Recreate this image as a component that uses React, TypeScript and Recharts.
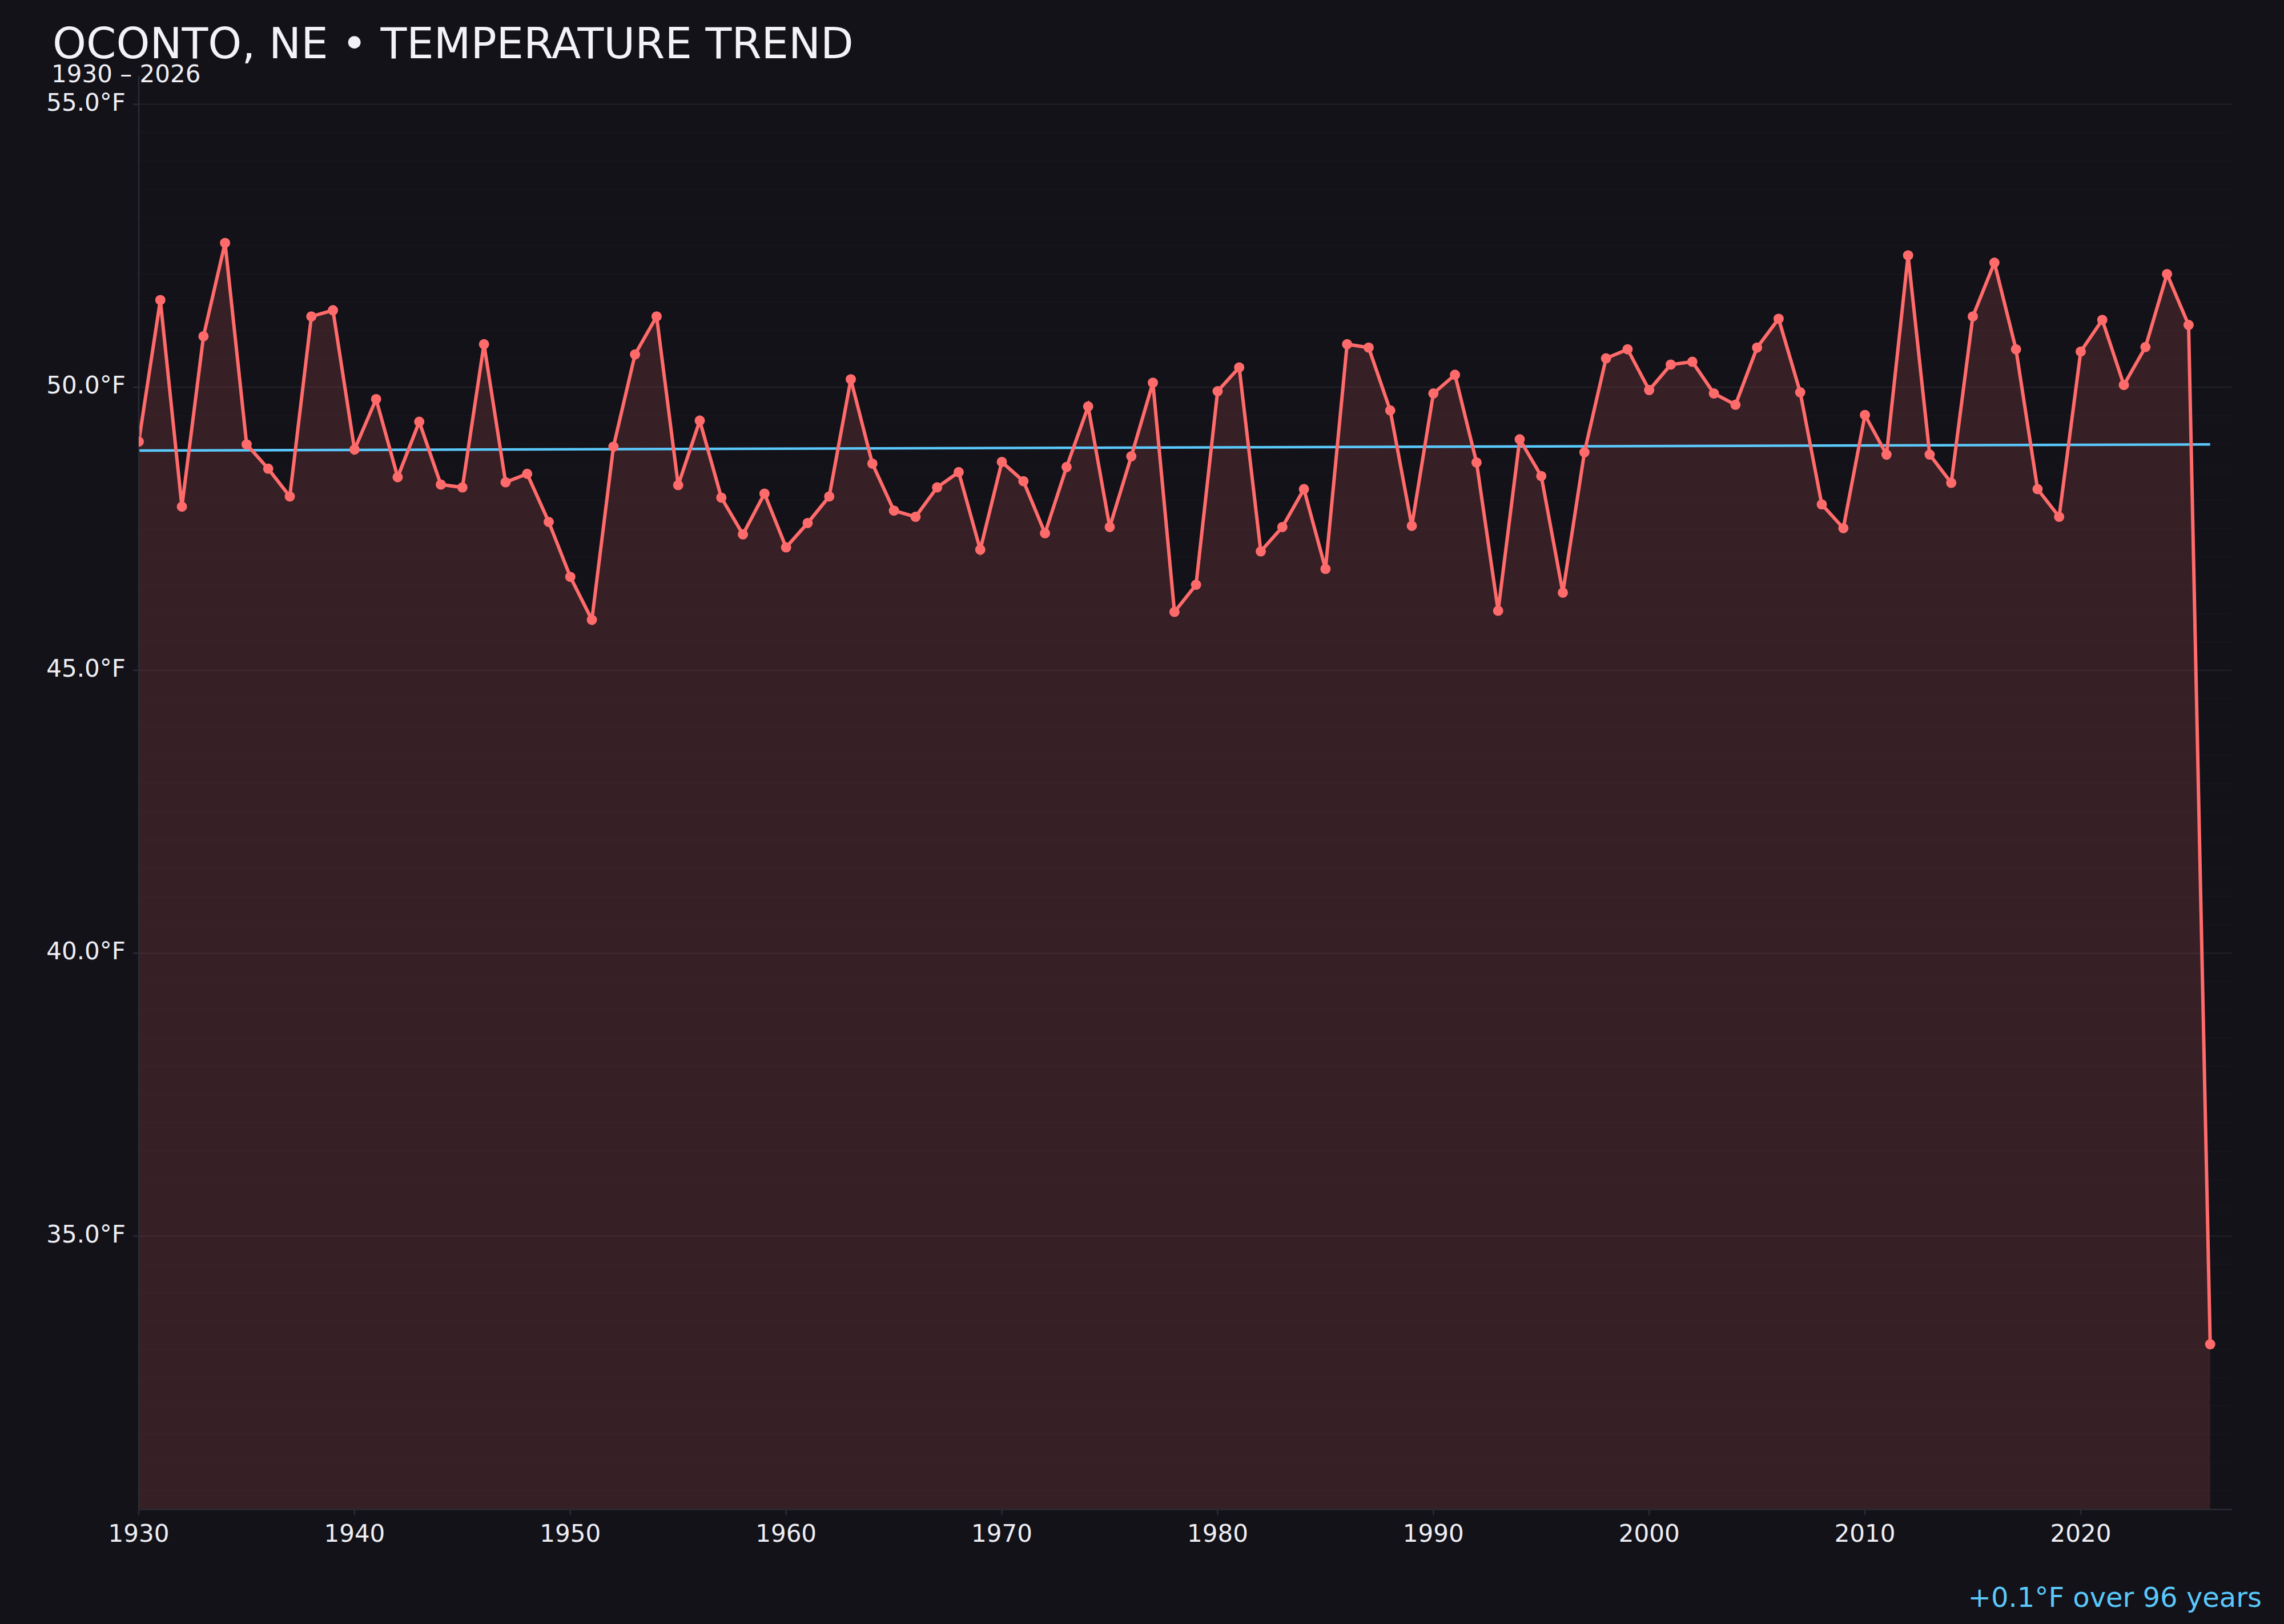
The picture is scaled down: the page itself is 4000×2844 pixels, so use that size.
import React from 'react';
import { ComposedChart, Area, Line, XAxis, YAxis, CartesianGrid } from 'recharts';

const YEARS = [
  1930, 1931, 1932, 1933, 1934, 1935, 1936, 1937, 1938, 1939,
  1940, 1941, 1942, 1943, 1944, 1945, 1946, 1947, 1948, 1949,
  1950, 1951, 1952, 1953, 1954, 1955, 1956, 1957, 1958, 1959,
  1960, 1961, 1962, 1963, 1964, 1965, 1966, 1967, 1968, 1969,
  1970, 1971, 1972, 1973, 1974, 1975, 1976, 1977, 1978, 1979,
  1980, 1981, 1982, 1983, 1984, 1985, 1986, 1987, 1988, 1989,
  1990, 1991, 1992, 1993, 1994, 1995, 1996, 1997, 1998, 1999,
  2000, 2001, 2002, 2003, 2004, 2005, 2006, 2007, 2008, 2009,
  2010, 2011, 2012, 2013, 2014, 2015, 2016, 2017, 2018, 2019,
  2020, 2021, 2022, 2023, 2024, 2025, 2026,
];

const TEMPS = [
  49.04, 51.54, 47.89, 50.9, 52.55, 48.99, 48.56, 48.07, 51.25, 51.36,
  48.9, 49.79, 48.41, 49.39, 48.28, 48.23, 50.76, 48.32, 48.47, 47.62,
  46.65, 45.89, 48.95, 50.58, 51.25, 48.27, 49.41, 48.05, 47.4, 48.12,
  47.17, 47.6, 48.07, 50.14, 48.65, 47.82, 47.71, 48.23, 48.5, 47.13,
  48.68, 48.34, 47.42, 48.59, 49.66, 47.53, 48.78, 50.08, 46.03, 46.51,
  49.93, 50.35, 47.1, 47.53, 48.2, 46.79, 50.76, 50.7, 49.59, 47.55,
  49.89, 50.22, 48.67, 46.05, 49.08, 48.43, 46.37, 48.85, 50.51, 50.67,
  49.95, 50.4, 50.45, 49.89, 49.69, 50.7, 51.21, 49.91, 47.93, 47.51,
  49.51, 48.81, 52.33, 48.81, 48.31, 51.25, 52.2, 50.67, 48.2, 47.71,
  50.63, 51.19, 50.04, 50.71, 52.0, 51.1, 33.09,
];

const TREND_YEARS = [1930, 2026];
const TREND_VALUES = [48.88, 48.99];

const X_TICKS = [1930, 1940, 1950, 1960, 1970, 1980, 1990, 2000, 2010, 2020];
const Y_TICKS = [35, 40, 45, 50, 55];
const MINOR_Y = [
  30.5, 31, 31.5, 32, 32.5, 33, 33.5, 34, 34.5, 35, 35.5, 36, 36.5, 37, 37.5,
  38, 38.5, 39, 39.5, 40, 40.5, 41, 41.5, 42, 42.5, 43, 43.5, 44, 44.5, 45,
  45.5, 46, 46.5, 47, 47.5, 48, 48.5, 49, 49.5, 50, 50.5, 51, 51.5, 52, 52.5,
  53, 53.5, 54, 54.5, 55,
];

const TITLE = 'OCONTO, NE • TEMPERATURE TREND';
const SUBTITLE = '1930 – 2026';
const FOOTER = '+0.1°F over 96 years';

const data = YEARS.map((year, i) => {
  const t = TREND_YEARS.indexOf(year);
  return { year, temp: TEMPS[i], trend: t >= 0 ? TREND_VALUES[t] : null };
});

const W = 4000;
const H = 2844;
const FONT = '"DejaVu Sans", Verdana, sans-serif';
const BG = '#131219';
const RED = '#ff6b6b';
const BLUE = '#5ac8fa';
const AXIS = '#2b2b34';
const TEXT = '#eeeef3';

const XTick = (props: any) => (
  <text
    x={props.x}
    y={props.y}
    dy={30}
    textAnchor="middle"
    fill={TEXT}
    fontSize={42}
    fontFamily={FONT}
  >
    {props.payload.value}
  </text>
);

const YTick = (props: any) => (
  <text
    x={props.x}
    y={props.y}
    dy={11}
    textAnchor="end"
    fill={TEXT}
    fontSize={42}
    fontFamily={FONT}
  >
    {`${Number(props.payload.value).toFixed(1)}°F`}
  </text>
);

export default function App() {
  return (
    <div
      style={{
        position: 'absolute',
        left: 0,
        top: 0,
        width: W,
        height: H,
        background: BG,
        overflow: 'hidden',
      }}
    >
      <ComposedChart
        width={W}
        height={H}
        data={data}
        margin={{ top: 133, right: 91.5, bottom: 0, left: 0 }}
      >
        <CartesianGrid
          vertical={false}
          horizontalValues={MINOR_Y}
          stroke="#ffffff"
          strokeOpacity={0.018}
          strokeWidth={2}
        />
        <CartesianGrid
          vertical={false}
          horizontalValues={Y_TICKS}
          stroke="#ffffff"
          strokeOpacity={0.045}
          strokeWidth={2.5}
        />
        <XAxis
          dataKey="year"
          type="number"
          domain={[1930, 2027]}
          ticks={X_TICKS}
          interval={0}
          allowDataOverflow
          height={200.5}
          tickSize={10}
          tickMargin={16}
          axisLine={{ stroke: AXIS, strokeWidth: 2.5 }}
          tickLine={{ stroke: AXIS, strokeWidth: 2.5 }}
          tick={<XTick />}
        />
        <YAxis
          type="number"
          domain={[30.17, 55.5]}
          ticks={Y_TICKS}
          interval={0}
          allowDataOverflow
          width={243}
          tickSize={10}
          tickMargin={13}
          axisLine={{ stroke: AXIS, strokeWidth: 2.5 }}
          tickLine={{ stroke: AXIS, strokeWidth: 2.5 }}
          tick={<YTick />}
        />
        <Area
          type="linear"
          dataKey="temp"
          stroke="none"
          fill={RED}
          fillOpacity={0.15}
          isAnimationActive={false}
          activeDot={false}
        />
        <Line
          type="linear"
          dataKey="trend"
          connectNulls
          stroke={BLUE}
          strokeWidth={4.5}
          dot={false}
          activeDot={false}
          isAnimationActive={false}
        />
        <Line
          type="linear"
          dataKey="temp"
          stroke={RED}
          strokeWidth={6}
          dot={{ r: 8, fill: RED, stroke: RED, strokeWidth: 2 }}
          activeDot={false}
          isAnimationActive={false}
        />
      </ComposedChart>
      <svg
        width={W}
        height={H}
        style={{ position: 'absolute', left: 0, top: 0, pointerEvents: 'none' }}
      >
        <text x={92} y={102} fill="#f2f2f7" fontSize={75} fontFamily={FONT}>
          {TITLE}
        </text>
        <text x={90} y={144} fill={TEXT} fontSize={42} fontFamily={FONT}>
          {SUBTITLE}
        </text>
        <text
          x={3961}
          y={2814}
          fill={BLUE}
          fontSize={48}
          fontFamily={FONT}
          textAnchor="end"
        >
          {FOOTER}
        </text>
      </svg>
    </div>
  );
}
